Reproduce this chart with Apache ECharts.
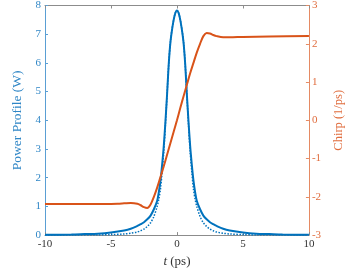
<!DOCTYPE html>
<html>
<head>
<meta charset="utf-8">
<script src="https://cdn.jsdelivr.net/npm/echarts@6/dist/echarts.min.js"></script>
<style>
html,body{margin:0;padding:0;background:#fff;}
#chart{width:353px;height:273px;}
</style>
</head>
<body>
<div id="chart"></div>
<script>
// Time samples (ps)
const tSolid = [-10,-8,-7,-6,-5,-4,-3.5,-3,-2.75,-2.5,-2.25,-2,-1.75,-1.5,-1.375,-1.25,-1.125,-1,-0.875,-0.75,-0.625,-0.5,-0.375,-0.25,-0.125,0,0.125,0.25,0.375,0.5,0.625,0.75,0.875,1,1.125,1.25,1.375,1.5,1.75,2,2.25,2.5,2.75,3,3.5,4,5,6,7,8,10];
const powerSolid = [0.01,0.02,0.035,0.05,0.09,0.16,0.22,0.32,0.38,0.45,0.55,0.68,0.9,1.2,1.5,1.9,2.45,3.1,3.95,4.9,5.95,6.7,7.15,7.5,7.74,7.83,7.74,7.5,7.15,6.7,5.95,4.9,3.95,3.1,2.45,1.9,1.5,1.2,0.9,0.68,0.55,0.45,0.38,0.32,0.22,0.16,0.09,0.05,0.035,0.02,0.01];

const tDotted = [-10,-8,-6,-5,-4,-3.5,-3,-2.75,-2.5,-2.25,-2,-1.75,-1.5,-1.375,-1.25,-1.125,-1,-0.875,-0.75,-0.625,-0.5,-0.375,-0.25,-0.125,0,0.125,0.25,0.375,0.5,0.625,0.75,0.875,1,1.125,1.25,1.375,1.5,1.75,2,2.25,2.5,2.75,3,3.5,4,5,6,8,10];
const powerDotted = [0,0,0.005,0.015,0.04,0.065,0.11,0.15,0.21,0.3,0.43,0.65,1.0,1.25,1.6,2.2,2.9,3.85,4.9,5.95,6.72,7.17,7.5,7.74,7.83,7.74,7.5,7.17,6.72,5.95,4.9,3.85,2.9,2.2,1.6,1.25,1.0,0.65,0.43,0.3,0.21,0.15,0.11,0.065,0.04,0.015,0.005,0,0];

const tChirp = [-10,-6,-5,-4.5,-4,-3.5,-3,-2.75,-2.5,-2.25,-2,-1.75,-1.5,-1.25,-1,-0.75,-0.5,-0.25,0,0.25,0.5,0.75,1,1.25,1.5,1.75,2,2.25,2.5,2.75,3,3.5,4,5,7,10];
const chirp = [-2.19,-2.19,-2.185,-2.18,-2.17,-2.16,-2.18,-2.22,-2.27,-2.29,-2.2,-2.0,-1.76,-1.48,-1.2,-0.9,-0.6,-0.3,0.0,0.32,0.63,0.93,1.23,1.5,1.77,2.0,2.2,2.28,2.27,2.23,2.2,2.17,2.17,2.18,2.19,2.2];

const xTicks = [-10,-5,0,5,10];
const leftTicks = [0,1,2,3,4,5,6,7,8];
const rightTicks = [-3,-2,-1,0,1,2,3];

const BLUE = '#0072BD', ORANGE = '#D95319', GRAY = '#8c8c8c';
const FONT = 'Liberation Serif';

const pairs = (xs, ys) => xs.map((x, i) => [x, ys[i]]);

const chart = echarts.init(document.getElementById('chart'));
chart.setOption({
  animation: false,
  backgroundColor: '#fff',
  grid: {left: 45, right: 33, top: 4, bottom: 29, containLabel: false},
  xAxis: [{
    type: 'value', min: xTicks[0], max: xTicks[xTicks.length-1], interval: 5,
    position: 'bottom',
    axisLine: {show: true, onZero: false, lineStyle: {color: GRAY, width: 1}},
    axisTick: {show: true, inside: true, length: 3, lineStyle: {color: GRAY}},
    axisLabel: {color: '#333', fontFamily: FONT, fontSize: 11, margin: 4},
    splitLine: {show: false},
    name: '{i|t} (ps)', nameLocation: 'middle', nameGap: 17,
    nameTextStyle: {color: '#333', fontFamily: FONT, fontSize: 13,
      rich: {i: {fontStyle: 'italic', fontFamily: FONT, fontSize: 13, color: '#333'}}}
  }, {
    type: 'value', min: -10, max: 10, interval: 5, position: 'top',
    axisLine: {show: true, onZero: false, lineStyle: {color: GRAY, width: 1}},
    axisTick: {show: true, inside: true, length: 3, lineStyle: {color: GRAY}},
    axisLabel: {show: false}, splitLine: {show: false}
  }],
  yAxis: [{
    type: 'value', min: leftTicks[0], max: leftTicks[leftTicks.length-1], interval: 1, position: 'left',
    axisLine: {show: true, onZero: false, lineStyle: {color: '#5a9fd4', width: 1}},
    axisTick: {show: true, inside: true, length: 3, lineStyle: {color: '#5a9fd4'}},
    axisLabel: {color: '#2f86c6', fontFamily: FONT, fontSize: 11, margin: 4},
    splitLine: {show: false},
    name: 'Power Profile (W)', nameLocation: 'middle', nameGap: 16, nameRotate: 90,
    nameTextStyle: {color: '#2f86c6', fontFamily: FONT, fontSize: 13.5}
  }, {
    type: 'value', min: rightTicks[0], max: rightTicks[rightTicks.length-1], interval: 1, position: 'right',
    axisLine: {show: true, onZero: false, lineStyle: {color: '#e58a63', width: 1}},
    axisTick: {show: true, inside: true, length: 3, lineStyle: {color: '#e58a63'}},
    axisLabel: {color: '#e06d3e', fontFamily: FONT, fontSize: 11, margin: 3},
    splitLine: {show: false},
    name: 'Chirp (1/ps)', nameLocation: 'middle', nameGap: 11, nameRotate: 90,
    nameTextStyle: {color: '#e06d3e', fontFamily: FONT, fontSize: 12.5}
  }],
  series: [{
    type: 'line', xAxisIndex: 0, yAxisIndex: 0, data: pairs(tDotted, powerDotted),
    showSymbol: false, smooth: 0.3,
    lineStyle: {color: BLUE, width: 1.5, type: [1.5, 1.5]}
  }, {
    type: 'line', xAxisIndex: 0, yAxisIndex: 0, data: pairs(tSolid, powerSolid),
    showSymbol: false, smooth: 0.3,
    lineStyle: {color: BLUE, width: 2}
  }, {
    type: 'line', xAxisIndex: 0, yAxisIndex: 1, data: pairs(tChirp, chirp),
    showSymbol: false, smooth: 0.3,
    lineStyle: {color: ORANGE, width: 2}
  }]
});
</script>
</body>
</html>
